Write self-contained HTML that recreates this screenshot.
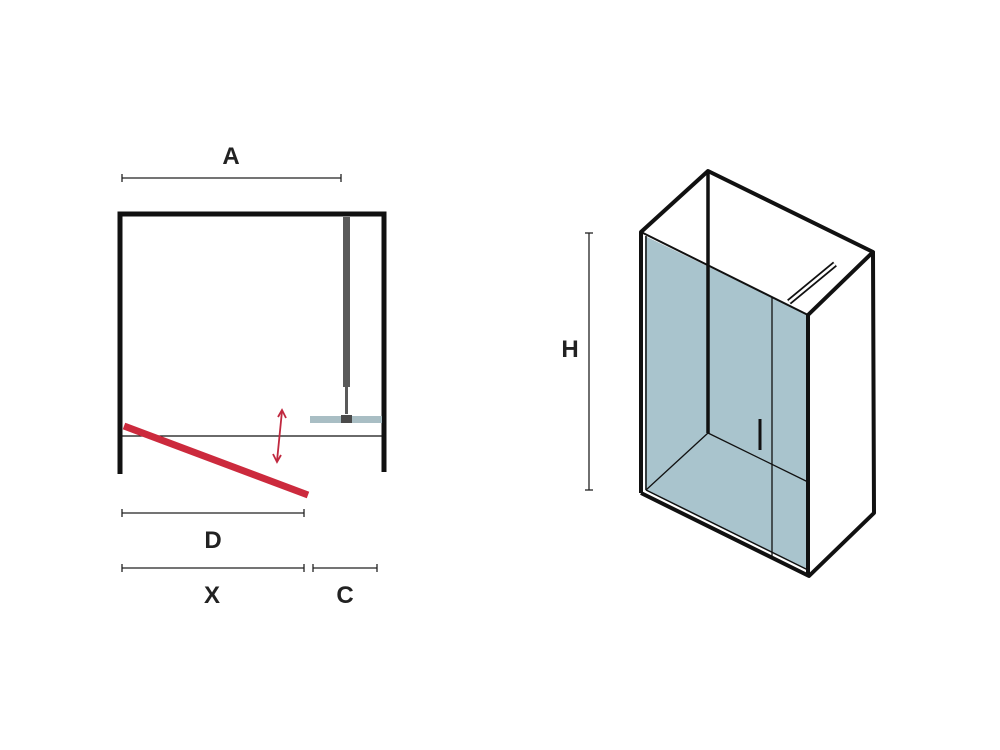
<!DOCTYPE html>
<html><head><meta charset="utf-8"><style>
html,body{margin:0;padding:0;background:#fff;}
svg{display:block;}
text{font-family:"Liberation Sans",sans-serif;font-weight:bold;font-size:24px;fill:#222;text-anchor:middle;}
</style></head><body>
<svg width="1000" height="750" viewBox="0 0 1000 750">
<g stroke="#222" stroke-width="1.3">
<line x1="122" y1="178" x2="341" y2="178"/><line x1="122" y1="174" x2="122" y2="182"/><line x1="341" y1="174" x2="341" y2="182"/>
<line x1="122" y1="513" x2="304" y2="513"/><line x1="122" y1="509" x2="122" y2="517"/><line x1="304" y1="509" x2="304" y2="517"/>
<line x1="122" y1="568" x2="304" y2="568"/><line x1="122" y1="564" x2="122" y2="572"/><line x1="304" y1="564" x2="304" y2="572"/>
<line x1="313" y1="568" x2="377" y2="568"/><line x1="313" y1="564" x2="313" y2="572"/><line x1="377" y1="564" x2="377" y2="572"/>
<line x1="589" y1="233" x2="589" y2="490"/><line x1="585" y1="233" x2="593" y2="233"/><line x1="585" y1="490" x2="593" y2="490"/>
</g>
<text x="231" y="164">A</text>
<text x="213" y="548">D</text>
<text x="212" y="603">X</text>
<text x="345" y="603">C</text>
<text x="570" y="357">H</text>

<path d="M120 474 V214 H384 V472" fill="none" stroke="#111" stroke-width="5"/>
<rect x="343" y="217" width="7" height="170" fill="#5a5a5a"/>
<rect x="345" y="386" width="3" height="28" fill="#5a5a5a"/>
<rect x="310" y="416" width="72" height="7" fill="#a9bec4"/>
<rect x="341" y="415" width="11" height="8" fill="#4a4a4a"/>
<line x1="122" y1="436" x2="382" y2="436" stroke="#111" stroke-width="1.2"/>
<line x1="124" y1="426" x2="308" y2="495" stroke="#cc2a3d" stroke-width="7"/>
<g stroke="#c0283f" stroke-width="1.8" fill="none">
<line x1="282" y1="411" x2="277" y2="461"/>
<polyline points="278,417 282,410 286,418"/>
<polyline points="273,454 277,462 281,455"/>
</g>

<polygon points="645,236 808,315 808,570 645,490" fill="#a9c4cd"/>
<g stroke="#111" fill="none" stroke-linejoin="round">
<polyline points="641,493 641,232 708,171 873,252 808,315 808,575" stroke-width="4"/>
<polyline points="641,232 808,315" stroke-width="2"/>
<polyline points="873,252 874,513 809,576 641,493" stroke-width="4"/>
<line x1="708" y1="171" x2="708" y2="433" stroke-width="3.5"/>
<line x1="708" y1="433" x2="808" y2="482" stroke-width="1.3"/>
<line x1="708" y1="433" x2="646" y2="490" stroke-width="1.3"/>
<line x1="646" y1="236" x2="646" y2="490" stroke-width="1.5"/>
<line x1="646" y1="490" x2="808" y2="570" stroke-width="1.5"/>
<line x1="772" y1="297" x2="772" y2="556" stroke-width="1.3"/>
<line x1="760" y1="419" x2="760" y2="450" stroke-width="3"/>
</g>
<line x1="789" y1="302" x2="835" y2="264" stroke="#111" stroke-width="6"/>
<line x1="789" y1="302" x2="835" y2="264" stroke="#fff" stroke-width="2.5"/>
</svg>
</body></html>
